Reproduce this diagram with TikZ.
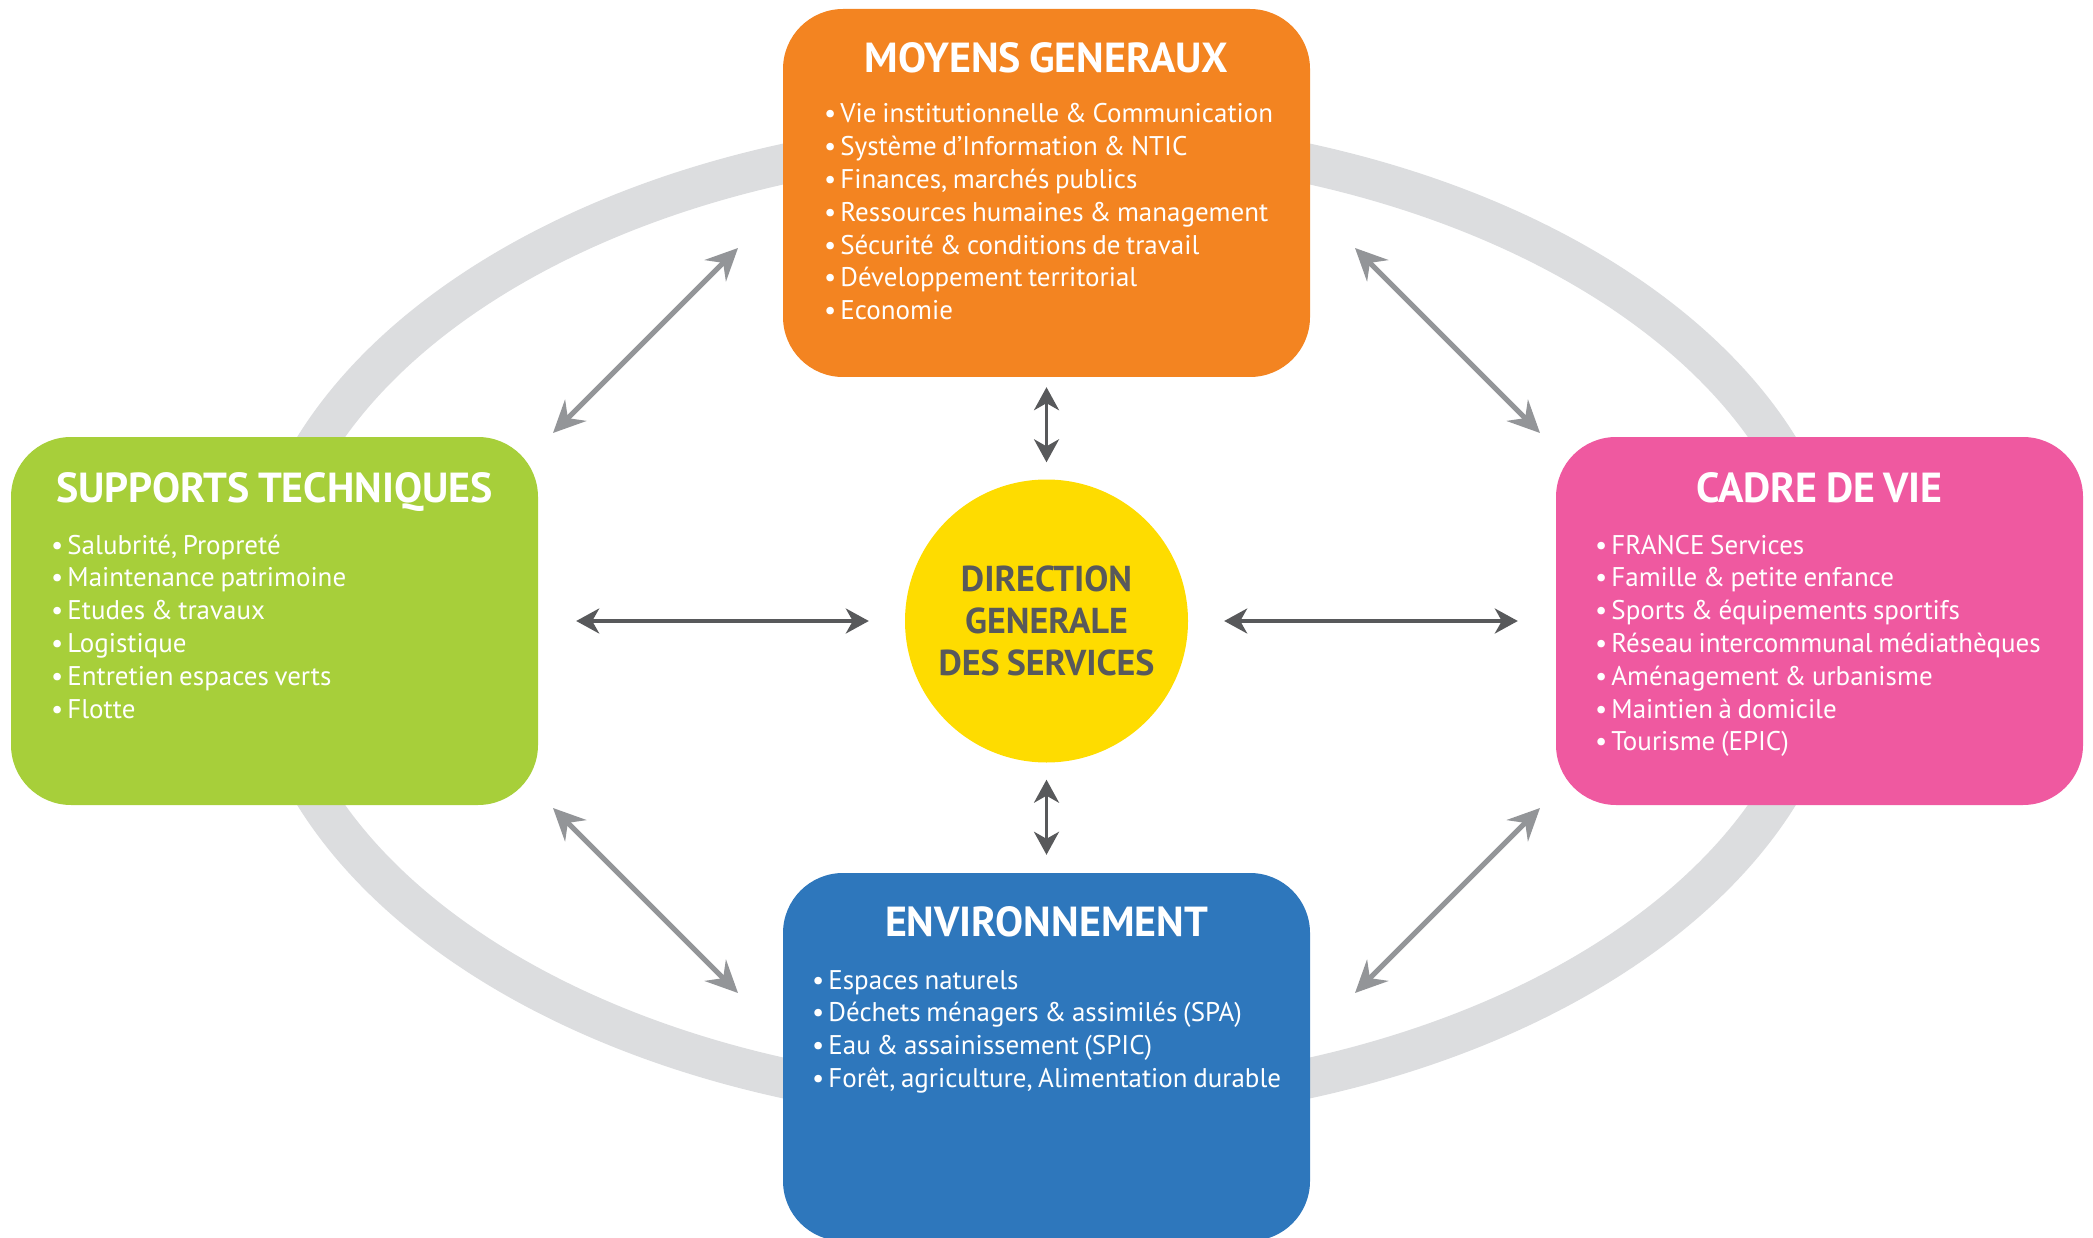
\documentclass[tikz,border=0pt]{standalone}
\usepackage{fontspec}
\setmainfont{PT Sans}[WordSpace=0.78]
\usetikzlibrary{arrows.meta}

\definecolor{mgorange}{HTML}{F38421}
\definecolor{stgreen}{HTML}{A7CF3A}
\definecolor{cvpink}{HTML}{EF59A0}
\definecolor{envblue}{HTML}{2E77BC}
\definecolor{dgyellow}{HTML}{FEDC00}
\definecolor{ringgray}{HTML}{DCDDDF}
\definecolor{linkgray}{HTML}{939598}
\definecolor{textdark}{HTML}{58595B}

\tikzset{
  pole/.style={rectangle, rounded corners=60pt, minimum width=527pt,
    minimum height=368pt, inner sep=0pt},
  poletitle/.style={text=white, font=\fontsize{42}{50}\selectfont\bfseries,
    anchor=base, inner sep=0pt},
  item/.style={text=white, font=\fontsize{27}{33}\selectfont,
    anchor=base west, inner sep=0pt},
  outerlink/.style={draw=linkgray, line width=5pt,
    {Stealth[length=32pt,width=30pt,inset=11pt]}-{Stealth[length=32pt,width=30pt,inset=11pt]}},
  innerlink/.style={draw=textdark, line width=3.5pt,
    {Stealth[length=23pt,width=25pt,inset=7pt]}-{Stealth[length=23pt,width=25pt,inset=7pt]}},
}

\begin{document}
\begin{tikzpicture}[x=1pt, y=-1pt]
\useasboundingbox (0,0) rectangle (2093,1238);
\clip (0,0) rectangle (2093,1238);

% ring linking the four poles
\draw[ringgray, line width=40pt] (1046.5,621) ellipse [x radius=784, y radius=485];

% the four poles
\node[pole, fill=mgorange] (mg) at (1046.5,193) {};
\node[pole, fill=stgreen]  (st) at (274.5,621) {};
\node[pole, fill=cvpink]   (cv) at (1819.5,621) {};
\node[pole, fill=envblue]  (env) at (1046.5,1057) {};

% central direction
\node[circle, fill=dgyellow, minimum size=283pt, inner sep=0pt, align=center,
  text=textdark, font=\fontsize{36}{42}\selectfont\bfseries]
  (dgs) at (1046.5,621) {DIRECTION\\GENERALE\\DES SERVICES};

% titles
\node[poletitle] (mg-title)  at (1046.5,73)  {MOYENS GENERAUX};
\node[poletitle] (st-title)  at (274.5,502)  {SUPPORTS TECHNIQUES};
\node[poletitle] (cv-title)  at (1819.5,502) {CADRE DE VIE};
\node[poletitle] (env-title) at (1046.5,936) {ENVIRONNEMENT};

% item lists
\foreach \t [count=\i] in {Vie institutionnelle \& Communication,
  Système d’Information \& NTIC, {Finances, marchés publics},
  Ressources humaines \& management, Sécurité \& conditions de travail,
  Développement territorial, Economie}
  \node[item] (mg-\i) at (824,{90.2+32.8*\i}) {•\hspace{4pt}\t};

\foreach \t [count=\i] in {{Salubrité, Propreté}, Maintenance patrimoine,
  Etudes \& travaux, Logistique, Entretien espaces verts, Flotte}
  \node[item] (st-\i) at (51,{521.2+32.8*\i}) {•\hspace{4pt}\t};

\foreach \t [count=\i] in {FRANCE Services, Famille \& petite enfance,
  Sports \& équipements sportifs, Réseau intercommunal médiathèques,
  Aménagement \& urbanisme, Maintien à domicile, Tourisme (EPIC)}
  \node[item] (cv-\i) at (1595,{521.2+32.8*\i}) {•\hspace{4pt}\t};

\foreach \t [count=\i] in {Espaces naturels,
  Déchets ménagers \& assimilés (SPA), Eau \& assainissement (SPIC),
  {Forêt, agriculture, Alimentation durable}}
  \node[item] (env-\i) at (812,{956.2+32.8*\i}) {•\hspace{4pt}\t};

% links between neighbouring poles
\coordinate (ul-a) at (553,433);  \coordinate (ul-b) at (738,248);
\coordinate (ur-a) at (1355,248); \coordinate (ur-b) at (1540,433);
\coordinate (ll-a) at (553,808);  \coordinate (ll-b) at (738,993);
\coordinate (lr-a) at (1540,808); \coordinate (lr-b) at (1355,993);
\draw[outerlink] (ul-a) -- (ul-b);
\draw[outerlink] (ur-a) -- (ur-b);
\draw[outerlink] (ll-a) -- (ll-b);
\draw[outerlink] (lr-a) -- (lr-b);

% links between the direction and each pole
\draw[innerlink] ([yshift=-10pt]mg.south) -- ([yshift=17pt]dgs.north);
\draw[innerlink] ([yshift=-17pt]dgs.south) -- ([yshift=18pt]env.north);
\draw[innerlink] ([xshift=38pt]st.east) -- ([xshift=-36pt]dgs.west);
\draw[innerlink] ([xshift=36pt]dgs.east) -- ([xshift=-38pt]cv.west);
\end{tikzpicture}
\end{document}
